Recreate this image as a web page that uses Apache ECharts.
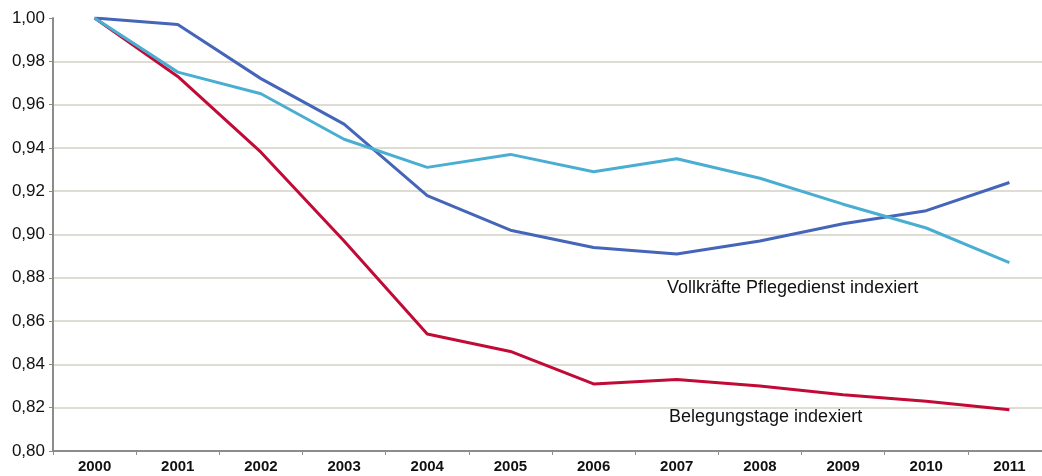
<!DOCTYPE html>
<html>
<head>
<meta charset="utf-8">
<script src="https://cdn.jsdelivr.net/npm/echarts@6/dist/echarts.min.js"></script>
<style>
  html, body { margin: 0; padding: 0; background: #fff; }
  #chart { width: 1042px; height: 476px; }
</style>
</head>
<body>
<div id="chart"></div>
<script>
  var years = ['2000', '2001', '2002', '2003', '2004', '2005', '2006', '2007', '2008', '2009', '2010', '2011'];
  // Vollkräfte (dunkelblau)
  var vollkraefte = [1.000, 0.997, 0.972, 0.951, 0.918, 0.902, 0.894, 0.891, 0.897, 0.905, 0.911, 0.924];
  // Vollkräfte Pflegedienst indexiert (hellblau)
  var pflegedienst = [1.000, 0.975, 0.965, 0.944, 0.931, 0.937, 0.929, 0.935, 0.926, 0.914, 0.903, 0.887];
  // Belegungstage indexiert (rot)
  var belegungstage = [1.000, 0.973, 0.938, 0.897, 0.854, 0.846, 0.831, 0.833, 0.830, 0.826, 0.823, 0.819];

  var font = 'Liberation Sans, Arial, sans-serif';
  var myChart = echarts.init(document.getElementById('chart'));

  var option = {
    animation: false,
    grid: { left: 53, width: 998, top: 18, bottom: 25, outerBoundsMode: 'none', containLabel: false },
    xAxis: {
      type: 'category',
      data: years,
      boundaryGap: true,
      axisLine: { lineStyle: { color: '#8c8c8c', width: 2 } },
      axisTick: { show: true, length: 4, lineStyle: { color: '#8c8c8c', width: 1 } },
      axisLabel: { color: '#111', fontSize: 15, fontWeight: 'bold', fontFamily: font, margin: 8 }
    },
    yAxis: {
      type: 'value',
      min: 0.8,
      max: 1.0,
      interval: 0.02,
      axisLine: { show: true, lineStyle: { color: '#8c8c8c', width: 2 } },
      axisTick: { show: true, length: 4, lineStyle: { color: '#8c8c8c', width: 1 } },
      axisLabel: {
        color: '#111', fontSize: 17, fontFamily: font, margin: 8,
        formatter: function (v) { return v.toFixed(2).replace('.', ','); }
      },
      splitLine: { show: true, showMaxLine: false, lineStyle: { color: '#d5d0c6', width: 1.5 } }
    },
    series: [
      {
        name: 'Belegungstage indexiert', type: 'line', data: belegungstage,
        showSymbol: false, lineStyle: { color: '#c20a36', width: 3 }
      },
      {
        name: 'Vollkräfte', type: 'line', data: vollkraefte,
        showSymbol: false, lineStyle: { color: '#4565b9', width: 3 }
      },
      {
        name: 'Vollkräfte Pflegedienst indexiert', type: 'line', data: pflegedienst,
        showSymbol: false, lineStyle: { color: '#4aaed2', width: 3 }
      }
    ],
    graphic: [
      {
        type: 'text', left: 667, top: 279,
        style: { text: 'Vollkräfte Pflegedienst indexiert', fill: '#111', font: '18px ' + font }
      },
      {
        type: 'text', left: 669, top: 408,
        style: { text: 'Belegungstage indexiert', fill: '#111', font: '18px ' + font }
      }
    ]
  };
  myChart.setOption(option);
</script>
</body>
</html>
